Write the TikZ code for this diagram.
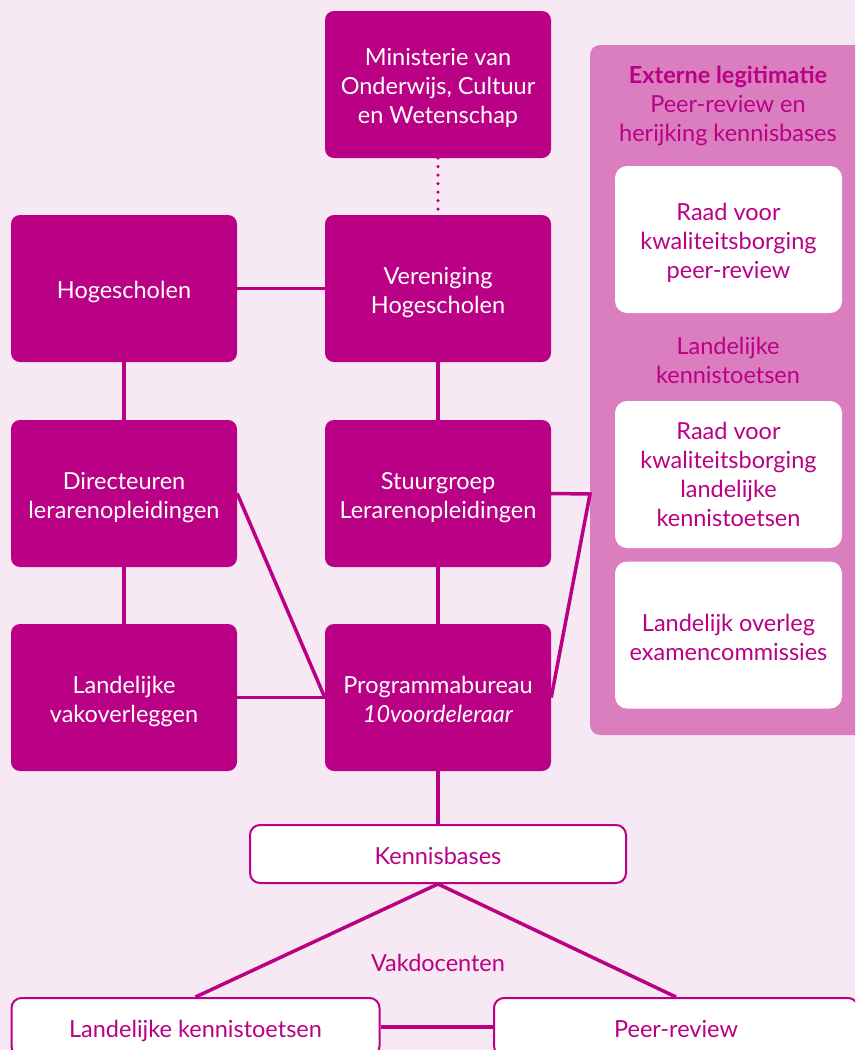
\documentclass[tikz,border=0pt]{standalone}
\usepackage{fontspec}
\setmainfont{Lato}
\usepackage{tikz}
\usetikzlibrary{positioning}
\definecolor{tienmagenta}{RGB}{186,0,132}
\definecolor{achtergrond}{RGB}{247,233,243}
\definecolor{paneel}{RGB}{219,126,191}
\newcommand{\boxstrut}{\rule[-8pt]{0pt}{36pt}}
\tikzstyle{orgbox}=[rectangle, rounded corners=9pt, fill=tienmagenta, text=white, align=center, inner sep=0pt, minimum width=226pt, minimum height=147pt, font=\fontsize{23.5}{29}\selectfont, execute at begin node=\boxstrut]
\tikzstyle{raadbox}=[rectangle, rounded corners=12pt, fill=white, text=tienmagenta, align=center, inner sep=0pt, minimum width=227pt, minimum height=147pt, font=\fontsize{23.5}{29}\selectfont]
\tikzstyle{basisbox}=[rectangle, rounded corners=10pt, draw=tienmagenta, line width=2pt, fill=white, text=tienmagenta, align=center, inner sep=0pt, minimum height=58pt, font=\fontsize{23.5}{29}\selectfont, execute at begin node=\boxstrut]
\tikzstyle{tweeregels}=[text height=56pt, text depth=6pt]
\tikzstyle{drieregels}=[text height=84pt, text depth=6pt]
\tikzstyle{vierregels}=[text height=110pt, text depth=6pt]
\tikzstyle{tekst}=[text=tienmagenta, align=center, font=\fontsize{23.5}{29}\selectfont]
\tikzstyle{lijn}=[draw=tienmagenta, line width=3.5pt]

\begin{document}
\begin{tikzpicture}[x=1pt, y=-1pt]
        \useasboundingbox (0,0) rectangle (855,1050);
        \clip (0,0) rectangle (855,1050);
        \fill[achtergrond] (0,0) rectangle (855,1050);

        % Het paneel
        \fill[paneel, rounded corners=10pt] (590,45) rectangle (880,735);
        \node[tekst] (extern) at (728,106) {\textbf{Externe legitimatie}\\Peer-review en\\herijking kennisbases};
        \node[raadbox, drieregels] (raadpeer) at (728.5,239.5) {Raad voor\\kwaliteitsborging\\peer-review};
        \node[tekst] (landelijk) at (728,360) {Landelijke\\kennistoetsen};
        \node[raadbox, vierregels] (raadtoets) at (728.5,474.5) {Raad voor\\kwaliteitsborging\\landelijke\\kennistoetsen};
        \node[raadbox, tweeregels] (overleg) at (728.5,635) {Landelijk overleg\\examencommissies};

        % De knopen
        \node[orgbox, drieregels] (ocw) at (438,84.5) {Ministerie van\\Onderwijs, Cultuur\\en Wetenschap};
        \node[orgbox, tweeregels] (vh) at (438,288.5) {Vereniging\\Hogescholen};
        \node[orgbox] (hs) at (124,288.5) {Hogescholen};
        \node[orgbox, tweeregels] (dir) at (124,493.5) {Directeuren\\lerarenopleidingen};
        \node[orgbox, tweeregels] (stuur) at (438,493.5) {Stuurgroep\\Lerarenopleidingen};
        \node[orgbox, tweeregels] (vak) at (124,697.5) {Landelijke\\vakoverleggen};
        \node[orgbox, tweeregels] (prog) at (438,697.5) {Programmabureau\\\textit{10voordeleraar}};
        \node[basisbox, minimum width=376pt] (kb) at (438,854) {Kennisbases};
        \node[tekst] (vd) at (438,963) {Vakdocenten};
        \node[basisbox, minimum width=368pt] (lkt) at (195.5,1027) {Landelijke kennistoetsen};
        \node[basisbox, minimum width=364pt] (pr) at (676,1027) {Peer-review};
        \coordinate (knik) at (590,494);

        % De verbindingen
        \draw[lijn, dash pattern=on 0pt off 8.5pt, line cap=round] (ocw.south) -- (vh.north);
        \draw[lijn] (hs) -- (vh);
        \draw[lijn] (hs) -- (dir);
        \draw[lijn] (dir) -- (vak);
        \draw[lijn] (vh) -- (stuur);
        \draw[lijn] (stuur) -- (prog);
        \draw[lijn] (vak) -- (prog);
        \draw[lijn] (dir.east) -- (prog.west);
        \draw[lijn] (stuur.east) -- (knik) -- (prog.east);
        \draw[lijn] (prog) -- (kb);
        \draw[lijn] (kb.south) -- (lkt.north);
        \draw[lijn] (kb.south) -- (pr.north);
        \draw[lijn] (lkt) -- (pr);
    \end{tikzpicture}
\end{document}
